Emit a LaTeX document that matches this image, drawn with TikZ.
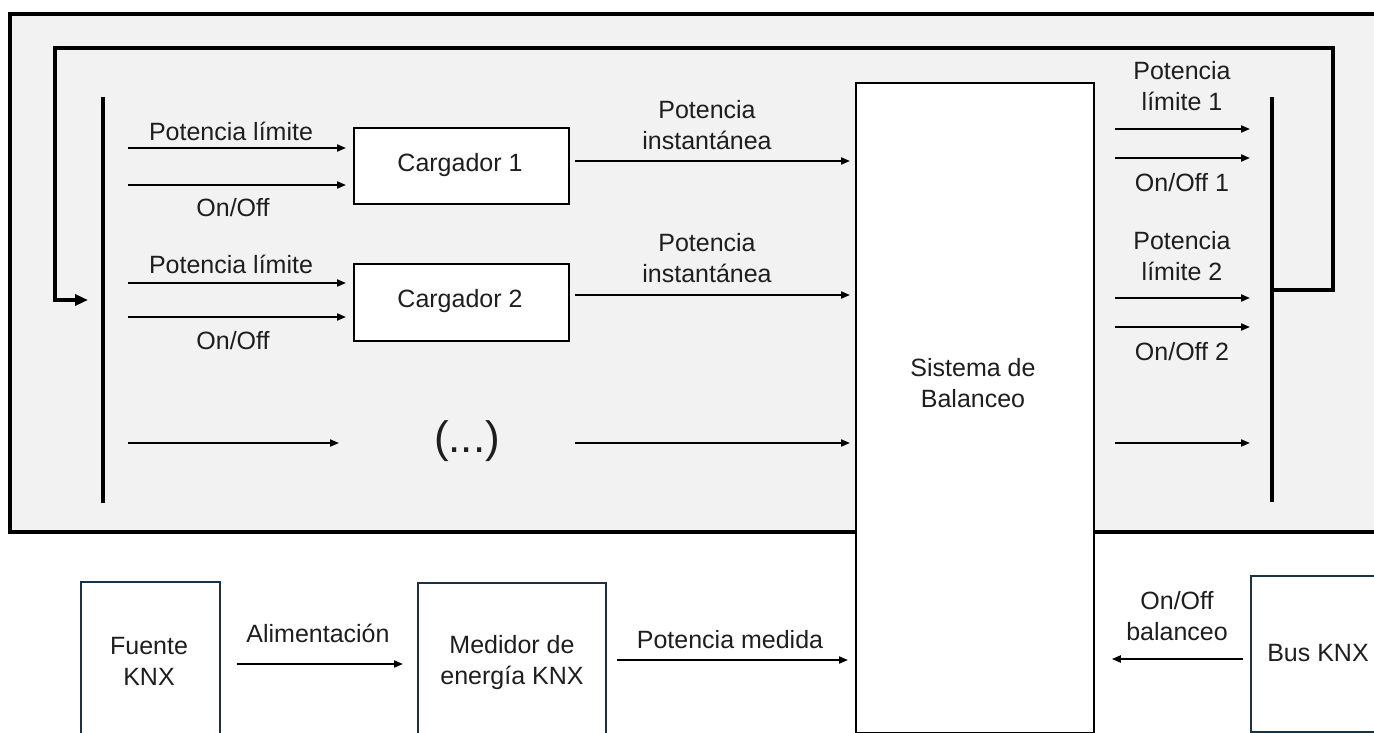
\documentclass[tikz,border=0pt]{standalone}
\usepackage{fontspec}
\setmainfont{Liberation Sans}
\usetikzlibrary{arrows.meta,calc}
\definecolor{bgray}{HTML}{F2F2F2}
\definecolor{navy}{HTML}{1B3245}
\definecolor{txt}{HTML}{1E1E1E}
\tikzset{
  lbl/.style={font=\fontsize{25}{31}\selectfont, text=txt, align=center, inner sep=0pt},
  blk/.style={draw=black, fill=white, line width=1.8pt, inner sep=0pt},
  kbox/.style={draw=navy, fill=white, line width=1.7pt, inner sep=0pt},
  arr/.style={line width=1.9pt, -{Triangle[length=9pt,width=7pt]}},
  bus/.style={line width=4pt},
  fb/.style={line width=3.6pt, line join=miter},
}
\begin{document}
\begin{tikzpicture}[x=1pt,y=-1pt]
\useasboundingbox (0,0) rectangle (1374,733);
\clip (0,0) rectangle (1374,733);
% outer gray frame
\draw[line width=4.5pt, fill=bgray] (10,14) rectangle (1400,532);
% busses
\coordinate (lbt) at (103,97); \coordinate (lbb) at (103,503);
\coordinate (rbt) at (1272,97); \coordinate (rbb) at (1272,502);
\draw[bus] (lbt) -- (lbb);
\draw[bus] (rbt) -- (rbb);
% feedback loop
\coordinate (fbs) at (1272,290);
\coordinate (fbe) at (88,300);
\draw[fb, -{Triangle[length=13pt,width=11pt]}] (fbs) -- (1333,290) -- (1333,48) -- (55,48) -- (55,300) -- (fbe);
% boxes
\node[blk, minimum width=215pt, minimum height=76pt, anchor=north west] (car1) at (353,127) {};
\node[lbl] (car1t) at (460,165) {Cargador 1};
\node[blk, minimum width=215pt, minimum height=77pt, anchor=north west] (car2) at (353,263) {};
\node[lbl] (car2t) at (460,301) {Cargador 2};
\node[blk, minimum width=238pt, minimum height=650pt, anchor=north west] (sis) at (855,82) {};
\node[lbl] (sist) at (973,383) {Sistema de\\Balanceo};
% inputs Cargador 1
\coordinate (a1) at (128,148); \coordinate (a2) at (128,185);
\draw[arr, shorten >=7pt] (a1) -- (a1 -| car1.west);
\draw[arr, shorten >=7pt] (a2) -- (a2 -| car1.west);
\node[lbl] (l1) at (231,131) {Potencia límite};
\node[lbl] (l2) at (233,208) {On/Off};
% inputs Cargador 2
\coordinate (b1) at (128,283); \coordinate (b2) at (128,317);
\draw[arr, shorten >=7pt] (b1) -- (b1 -| car2.west);
\draw[arr, shorten >=7pt] (b2) -- (b2 -| car2.west);
\node[lbl] (l3) at (231,264) {Potencia límite};
\node[lbl] (l4) at (233,341) {On/Off};
% outputs chargers
\coordinate (c1) at (575,161); \coordinate (c2) at (575,295);
\draw[arr, shorten >=5pt] (c1) -- (c1 -| sis.west);
\draw[arr, shorten >=5pt] (c2) -- (c2 -| sis.west);
\node[lbl] (l5) at (707,125) {Potencia\\instantánea};
\node[lbl] (l6) at (707,258) {Potencia\\instantánea};
% dots row
\coordinate (d1) at (128,443); \coordinate (d2) at (339,443);
\draw[arr] (d1) -- (d2);
\node[font=\fontsize{44}{48}\selectfont, text=txt, inner sep=0pt] (dots) at (467,441) {(...)};
\coordinate (d3) at (575,443);
\draw[arr, shorten >=5pt] (d3) -- (d3 -| sis.west);
% right outputs
\coordinate (r1) at (1115,129); \coordinate (r2) at (1115,158);
\coordinate (r3) at (1115,298); \coordinate (r4) at (1115,327);
\coordinate (r5) at (1115,443);
\foreach \p in {r1,r2,r3,r4,r5} {\draw[arr, shorten >=22pt] (\p) -- (\p -| rbt);}
\node[lbl] (l7) at (1182,86) {Potencia\\límite 1};
\node[lbl] (l8) at (1182,183) {On/Off 1};
\node[lbl] (l9) at (1182,256) {Potencia\\límite 2};
\node[lbl] (l10) at (1182,352) {On/Off 2};
% bottom row
\node[kbox, minimum width=139pt, minimum height=170pt, anchor=north west] (fue) at (80,581) {};
\node[lbl] (fuet) at (149,661) {Fuente\\KNX};
\node[kbox, minimum width=188pt, minimum height=170pt, anchor=north west] (med) at (417,582) {};
\node[lbl] (medt) at (512,663) {Medidor de\\energía KNX};
\node[kbox, minimum width=140pt, minimum height=156pt, anchor=north west] (bus) at (1250,575) {};
\node[lbl] (bust) at (1318,653) {Bus KNX};
\coordinate (e1) at (237,664);
\draw[arr, shorten >=14pt] (e1) -- (e1 -| med.west);
\node[lbl] (l11) at (318,633) {Alimentación};
\coordinate (e2) at (617,660);
\draw[arr, shorten >=7pt] (e2) -- (e2 -| sis.west);
\node[lbl] (l12) at (730,640) {Potencia medida};
\coordinate (e3) at (1243,659);
\draw[arr, shorten >=17pt] (e3) -- (e3 -| sis.east);
\node[lbl] (l13) at (1177,616) {On/Off\\balanceo};
\end{tikzpicture}
\end{document}
